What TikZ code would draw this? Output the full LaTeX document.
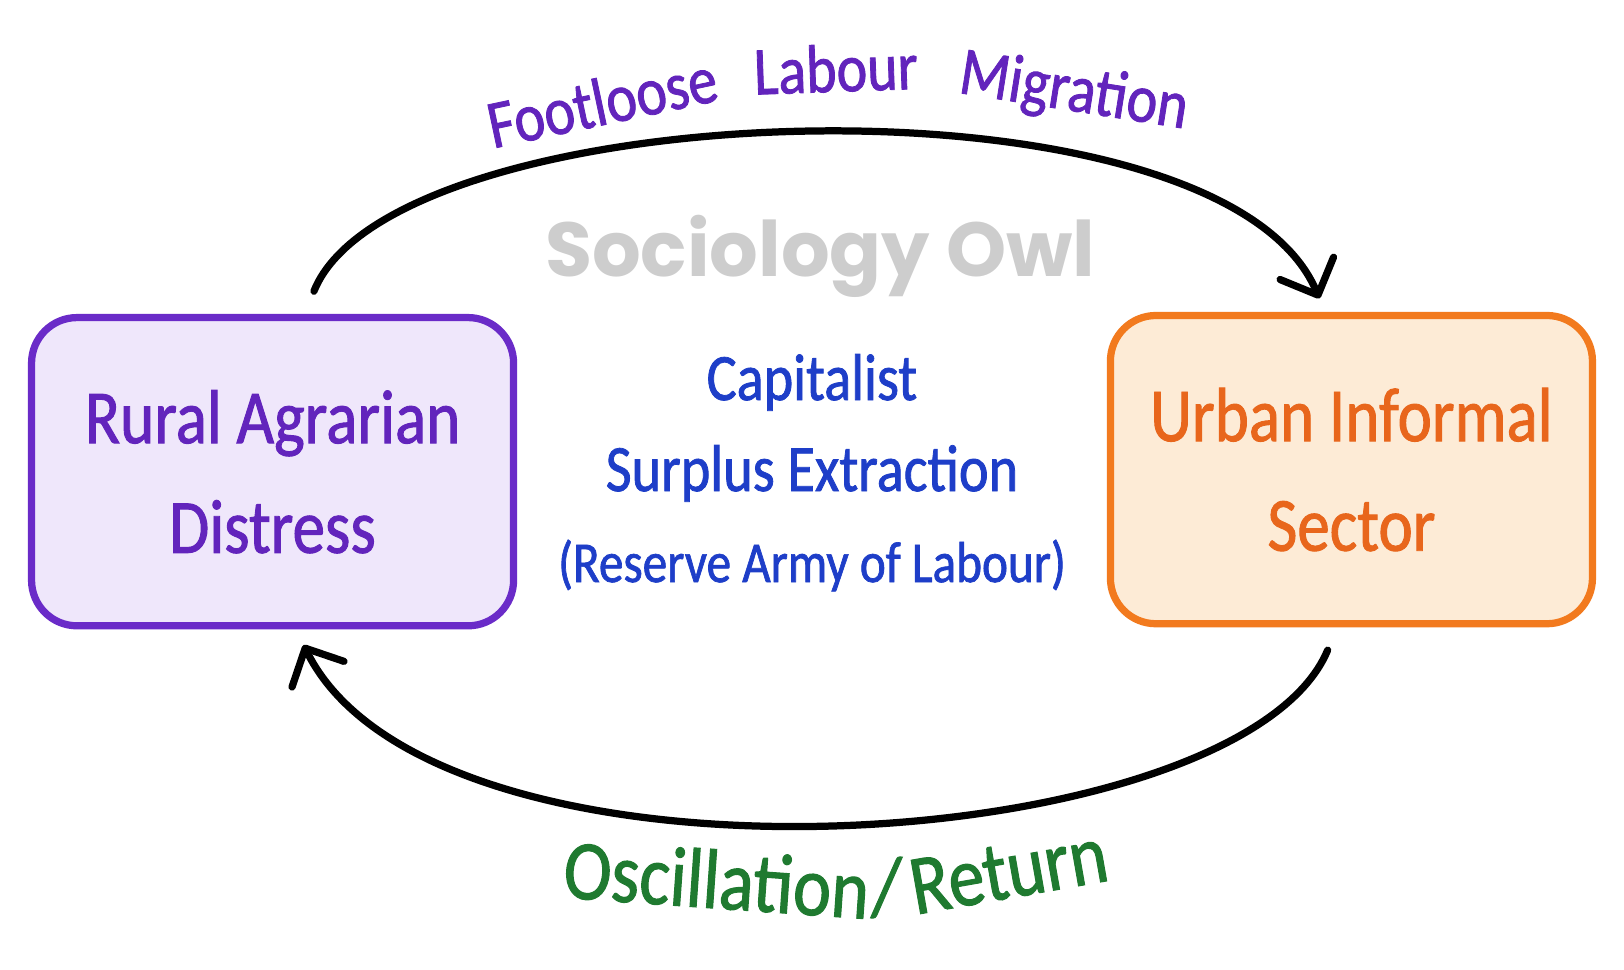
\documentclass[tikz,border=0pt]{standalone}
\usepackage{fontspec}
\setmainfont{Carlito}[FakeStretch=0.85,FakeBold=1.2]
\newfontfamily\owlfont{Poppins}
\usetikzlibrary{arrows.meta,positioning}

\definecolor{ruralline}{HTML}{6A2BC8}
\definecolor{ruralfill}{HTML}{EFE7FB}
\definecolor{ruraltext}{HTML}{6224BC}
\definecolor{urbanline}{HTML}{F27A1E}
\definecolor{urbanfill}{HTML}{FDEBD6}
\definecolor{urbantext}{HTML}{E8661C}
\definecolor{corebl}{HTML}{1E3EC8}
\definecolor{returngr}{HTML}{1F7A30}
\definecolor{owlgray}{HTML}{CDCDCD}

\begin{document}
\begin{tikzpicture}[x=0.5pt,y=-0.5pt,
    box/.style={rounded corners=22pt,line width=3.5pt,minimum width=233pt,
        minimum height=149pt,align=center,font=\fontsize{37}{53}\selectfont},
    flow/.style={line width=3.5pt,line cap=round,
        -{Straight Barb[length=14pt,width=28pt,round]}},
    toplbl/.style={text=ruraltext,inner sep=1pt,font=\fontsize{33}{40}\selectfont},
    botlbl/.style={text=returngr,inner sep=0.5pt,font=\fontsize{41}{46}\selectfont}]

  \useasboundingbox (0,0) rectangle (1570,937);

  % the two sectors
  \node[box,draw=ruralline,fill=ruralfill,text=ruraltext] (rural) at (263.5,456)
      {Rural Agrarian\\Distress};
  \node[box,draw=urbanline,fill=urbanfill,text=urbantext] (urban) at (1306.5,454)
      {Urban Informal\\Sector};

  % middle
  \node[text=corebl,align=center,font=\fontsize{32}{44}\selectfont] (core) at (785,457)
      {Capitalist\\Surplus Extraction\\{\fontsize{28}{44}\selectfont(Reserve Army of Labour)}};
  \node[text=owlgray,font=\owlfont\bfseries\fontsize{37}{44}\selectfont] (owl) at (793,248)
      {Sociology Owl};

  % cycle
  \draw[flow] ([shift={(40,-22)}]rural.north) .. controls (380,90) and (1180,60)
      .. ([shift={(-31,-13)}]urban.north);
  \draw[flow] ([shift={(-23,22)}]urban.south) .. controls (1200,830) and (420,880)
      .. ([shift={(30,15)}]rural.south);

  % labels on the arcs
  \node[toplbl,rotate=12] (foot) at (582,98) {Footloose};
  \node[toplbl,rotate=2] (lab) at (808,66) {Labour};
  \node[toplbl,rotate=-9] (mig) at (1038,90) {Migration};

  \node[botlbl,rotate=-4] (osc) at (693,850) {Oscillation};
  \node[botlbl,rotate=-3] (slash) at (857,858) {/};
  \node[botlbl,rotate=10] (ret) at (975,842) {Return};

\end{tikzpicture}
\end{document}
